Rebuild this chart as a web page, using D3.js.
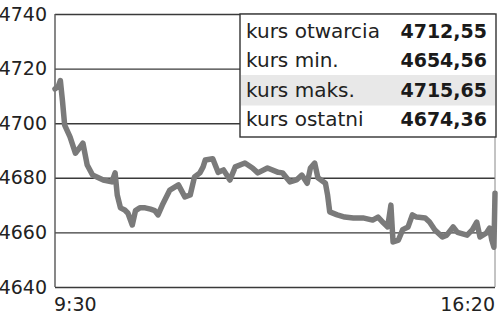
<!DOCTYPE html>
<html>
<head>
<meta charset="utf-8">
<script src="https://cdn.jsdelivr.net/npm/d3@7"></script>
<style>
  html, body { margin: 0; padding: 0; background: #fff; }
  svg { display: block; }
  text { font-family: "DejaVu Sans", sans-serif; }
</style>
</head>
<body>
<div id="chart"></div>
<script>
// ---- data ----
const times = ["9:30","9:33","9:35","9:37","9:39","9:44","9:49","9:52","9:56","10:00",
  "10:05","10:15","10:23","10:26","10:28","10:31","10:35","10:38","10:42","10:45",
  "10:49","10:54","10:59","11:03","11:06","11:10","11:17","11:25","11:31","11:36",
  "11:40","11:45","11:48","11:50","11:57","12:02","12:07","12:13","12:18","12:27",
  "12:34","12:39","12:48","12:58","13:02","13:09","13:15","13:20","13:25","13:28",
  "13:32","13:35","13:42","13:44","13:46","13:53","14:00","14:08","14:17","14:26",
  "14:31","14:36","14:40","14:43","14:45","14:50","14:54","14:59","15:03","15:07",
  "15:15","15:19","15:24","15:31","15:35","15:41","15:45","15:54","15:59","16:03",
  "16:06","16:12","16:15","16:17","16:19","16:20"];
const values = [4712.55,4713.5,4715.65,4708.0,4699.3,4695.0,4689.0,4690.5,4692.7,4684.7,
  4681.0,4679.2,4678.5,4681.8,4673.7,4669.0,4668.2,4667.0,4662.7,4668.0,
  4669.0,4669.0,4668.5,4668.0,4666.4,4670.0,4675.5,4677.4,4673.0,4673.7,
  4680.3,4681.8,4684.0,4686.5,4687.0,4682.0,4682.9,4679.2,4684.0,4685.4,
  4683.6,4681.8,4683.6,4682.0,4681.8,4678.5,4679.2,4681.0,4678.0,4683.6,
  4685.4,4680.0,4678.0,4673.7,4667.5,4666.4,4665.6,4665.3,4665.3,4664.5,
  4665.6,4663.5,4662.0,4670.0,4656.5,4657.2,4661.0,4662.0,4666.4,4665.6,
  4665.3,4663.8,4660.9,4658.3,4659.0,4662.0,4660.0,4659.0,4661.0,4663.8,
  4658.3,4659.8,4661.6,4657.2,4654.56,4674.36];
const yTicks = [4640, 4660, 4680, 4700, 4720, 4740];
const xTickLabels = ["9:30", "16:20"];
const legendLabels = ["kurs otwarcia", "kurs min.", "kurs maks.", "kurs ostatni"];
const legendValues = ["4712,55", "4654,56", "4715,65", "4674,36"];

// ---- layout ----
const W = 500, H = 317;
const m = { left: 55, right: 5, top: 14, bottom: 30 };
const parse = d3.timeParse("%H:%M");

const svg = d3.select("#chart").append("svg").attr("width", W).attr("height", H);

const x = d3.scaleTime()
  .domain([parse(xTickLabels[0]), parse(xTickLabels[1])])
  .range([m.left, W - m.right]);
const y = d3.scaleLinear()
  .domain([yTicks[0], yTicks[yTicks.length - 1]])
  .range([H - m.bottom, m.top]);

// gridlines + y labels
const yAxis = svg.append("g")
  .attr("transform", `translate(${m.left},0)`)
  .call(d3.axisLeft(y).tickValues(yTicks).tickSize(-(W - m.right - m.left)).tickPadding(8).tickFormat(d3.format("d")));
yAxis.select(".domain").remove();
yAxis.selectAll(".tick line").attr("stroke", "#3a3a3a").attr("stroke-width", 1.4);
yAxis.selectAll(".tick text")
  .attr("font-family", "DejaVu Sans, sans-serif")
  .attr("font-size", 19).attr("fill", "#222");

// left and right frame lines
svg.append("line").attr("x1", m.left).attr("x2", m.left)
  .attr("y1", y(yTicks[yTicks.length - 1])).attr("y2", y(yTicks[0]))
  .attr("stroke", "#555").attr("stroke-width", 1.4);
svg.append("line").attr("x1", W - m.right).attr("x2", W - m.right)
  .attr("y1", y(yTicks[yTicks.length - 1])).attr("y2", y(yTicks[0]))
  .attr("stroke", "#888").attr("stroke-width", 1);

// x labels
svg.selectAll(".xl").data(xTickLabels).enter().append("text")
  .attr("class", "xl")
  .attr("x", (d, i) => i === 0 ? x(parse(d)) - 1 : x(parse(d)))
  .attr("y", H - 6)
  .attr("text-anchor", (d, i) => i === 0 ? "start" : "end")
  .attr("font-size", 19).attr("fill", "#222")
  .text(d => d);

// line
const data = times.map((t, i) => ({ t: parse(t), v: values[i] }));
svg.append("path").datum(data)
  .attr("fill", "none")
  .attr("stroke", "#7a7a7a")
  .attr("stroke-width", 5.5)
  .attr("stroke-linejoin", "round")
  .attr("stroke-linecap", "round")
  .attr("d", d3.line().x(d => x(d.t)).y(d => y(d.v)));

// legend box
const lx = 240, lw = W - m.right - lx + 1, ly = m.top, rowH = 29.5, rowTop = 16;
const lh = 123;
const lg = svg.append("g");
lg.append("rect").attr("x", lx).attr("y", ly).attr("width", lw).attr("height", lh)
  .attr("fill", "#fff").attr("stroke", "#333").attr("stroke-width", 1.4);
lg.append("rect").attr("x", lx + 1).attr("y", rowTop + 2 * rowH)
  .attr("width", lw - 2).attr("height", rowH + 1)
  .attr("fill", "#e8e8e8");
legendLabels.forEach((lab, i) => {
  const cy = rowTop + i * rowH + rowH / 2;
  lg.append("text").attr("x", lx + 6).attr("y", cy + 7)
    .attr("font-size", 20).attr("fill", "#222").text(lab);
  lg.append("text").attr("x", W - 13).attr("y", cy + 7)
    .attr("text-anchor", "end")
    .attr("font-size", 19).attr("font-weight", "bold").attr("fill", "#1a1a1a")
    .text(legendValues[i]);
});
</script>
</body>
</html>
